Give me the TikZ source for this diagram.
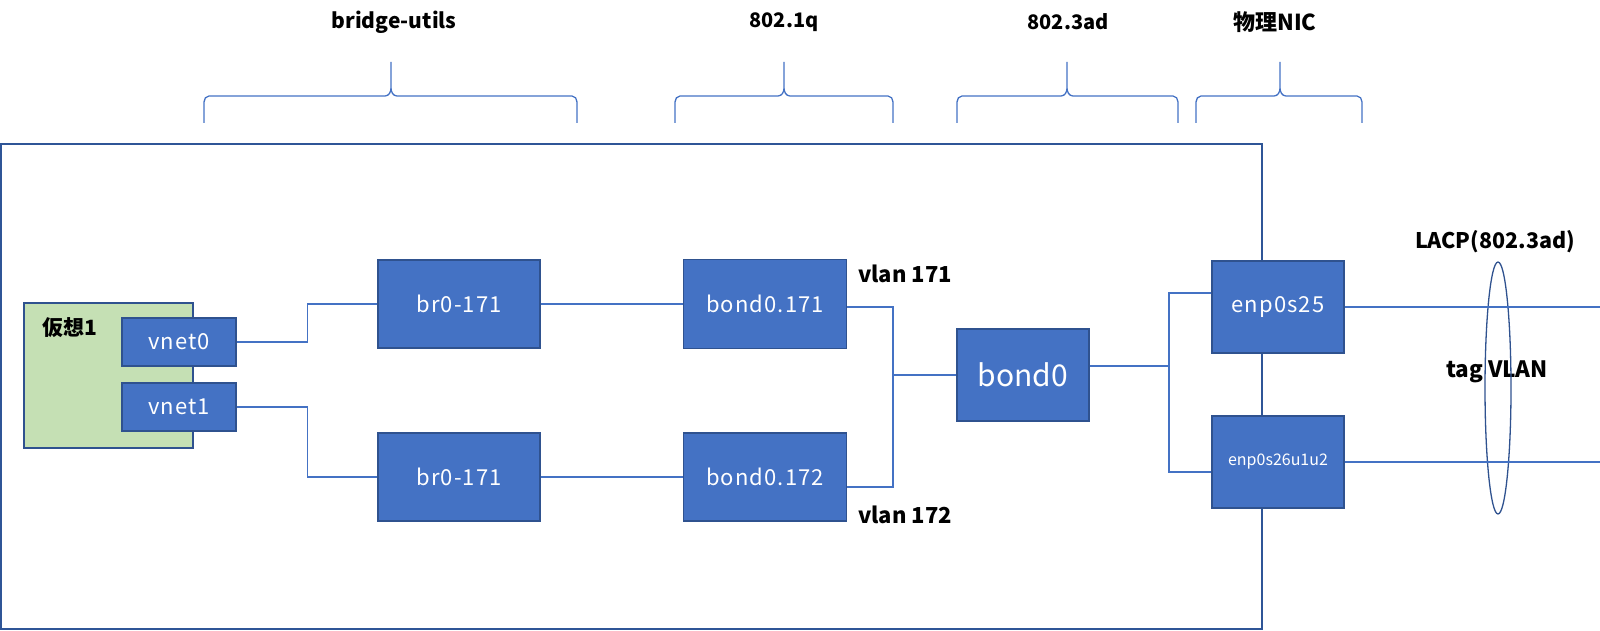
\documentclass[tikz,border=0pt]{standalone}
\usepackage{fontspec}
\setmainfont{Noto Sans CJK JP}
\usetikzlibrary{positioning,shapes.geometric}
\definecolor{Box}{HTML}{4472C4}
\definecolor{BoxEdge}{HTML}{2F528F}
\definecolor{Guest}{HTML}{C5E0B4}
\definecolor{Wire}{HTML}{4472C4}
\definecolor{Frame}{HTML}{2F5597}

% curly bracket over one layer: left end, tip, right end
\newcommand{\layerbrace}[3]{%
  \draw[wire] (#1,123) -- (#1,102) to[out=90,in=180] (#1+5,96) -- (#2-6,96)
    to[out=0,in=-90] (#2,88) -- (#2,62) -- (#2,88) to[out=-90,in=180] (#2+6,96)
    -- (#3-5,96) to[out=0,in=90] (#3,102) -- (#3,123);}

\begin{document}
\begin{tikzpicture}[x=1pt,y=-1pt,
    ifbox/.style={draw=BoxEdge,fill=Box,line width=1.2pt,text=white,inner sep=0pt,
      font=\fontsize{22}{26}\selectfont\addfontfeature{LetterSpace=5}},
    guest/.style={draw=BoxEdge,fill=Guest,line width=1.2pt},
    lbl/.style={font=\fontsize{21}{25}\selectfont\bfseries},
    wire/.style={draw=Wire,line width=1.3pt}]
  \useasboundingbox (0,0) rectangle (1600,631);
  \draw[Frame,line width=1.6pt] (1,144) rectangle (1262,629);

  % layers
  \node[lbl] (lbridge) at (394,22) {bridge-utils};
  \node[lbl,font=\fontsize{20}{24}\selectfont\bfseries] (lq) at (784,22) {802.1q};
  \node[lbl,font=\fontsize{20}{24}\selectfont\bfseries] (lad) at (1068,22) {802.3ad};
  \node[lbl,font=\fontsize{22}{26}\selectfont\bfseries] (lnic) at (1275,22) {物理NIC};
  \layerbrace{204}{391}{577}
  \layerbrace{675}{784}{893}
  \layerbrace{957}{1067}{1178}
  \layerbrace{1196}{1280}{1362}

  % guest
  \node[guest,minimum width=169,minimum height=145] (vm) at (108.5,375.5) {};
  \node[lbl] (vmname) at (70,328) {仮想1};
  \node[ifbox,minimum width=114,minimum height=48] (vnet0) at (179,342) {vnet0};
  \node[ifbox,minimum width=114,minimum height=48] (vnet1) at (179,407) {vnet1};

  % host side
  \node[ifbox,minimum width=162,minimum height=88] (bra) at (459,304) {br0-171};
  \node[ifbox,minimum width=162,minimum height=88] (brb) at (459,477) {br0-171};
  \node[ifbox,minimum width=163,minimum height=89] (bond171) at (765,304) {bond0.171};
  \node[ifbox,minimum width=163,minimum height=88] (bond172) at (765,477) {bond0.172};
  \node[ifbox,minimum width=132,minimum height=92,font=\fontsize{30}{36}\selectfont] (bond0) at (1023,375) {bond0};
  \node[ifbox,minimum width=132,minimum height=92] (enp25) at (1278,307) {enp0s25};
  \node[ifbox,minimum width=132,minimum height=92,font=\fontsize{16}{20}\selectfont] (enp26) at (1278,462) {enp0s26u1u2};

  \node[lbl,font=\fontsize{22}{26}\selectfont\bfseries] (vlanA) at (905,274) {vlan 171};
  \node[lbl,font=\fontsize{22}{26}\selectfont\bfseries] (vlanB) at (905,515) {vlan 172};
  \node[lbl,font=\fontsize{21.5}{25}\selectfont\bfseries] (lacp) at (1495,242) {LACP(802.3ad)};
  \node[lbl,font=\fontsize{22.5}{26}\selectfont\bfseries] (tag) at (1497,372) {tag VLAN};
  \node[draw=BoxEdge,line width=1.3pt,ellipse,minimum width=26,minimum height=252,inner sep=0pt] (lag) at (1498,388) {};

  \coordinate (busq) at (893,0);
  \coordinate (busnic) at (1169,0);
  \coordinate (out) at (1600,0);

  % wiring
  \draw[wire] (vnet0.east) -- ++(71,0) |- (bra.west);
  \draw[wire] (vnet1.east) -- ++(71,0) |- (brb.west);
  \draw[wire] (bra) -- (bond171);
  \draw[wire] (brb) -- (bond172);
  \draw[wire] ([yshift=-3pt]bond171.east) -- ([yshift=-3pt]bond171.east -| busq)
    -- ([yshift=-10pt]bond172.east -| busq) -- ([yshift=-10pt]bond172.east);
  \draw[wire] (bond0.west -| busq) -- (bond0.west);
  \draw[wire] ([yshift=9pt]bond0.east) -- ([yshift=9pt]bond0.east -| busnic);
  \draw[wire] ([yshift=14pt]enp25.west) -- ([yshift=14pt]enp25.west -| busnic)
    -- ([yshift=-10pt]enp26.west -| busnic) -- ([yshift=-10pt]enp26.west);
  \draw[wire] (enp25.east) -- (enp25.east -| out);
  \draw[wire] (enp26.east) -- (enp26.east -| out);
\end{tikzpicture}
\end{document}
